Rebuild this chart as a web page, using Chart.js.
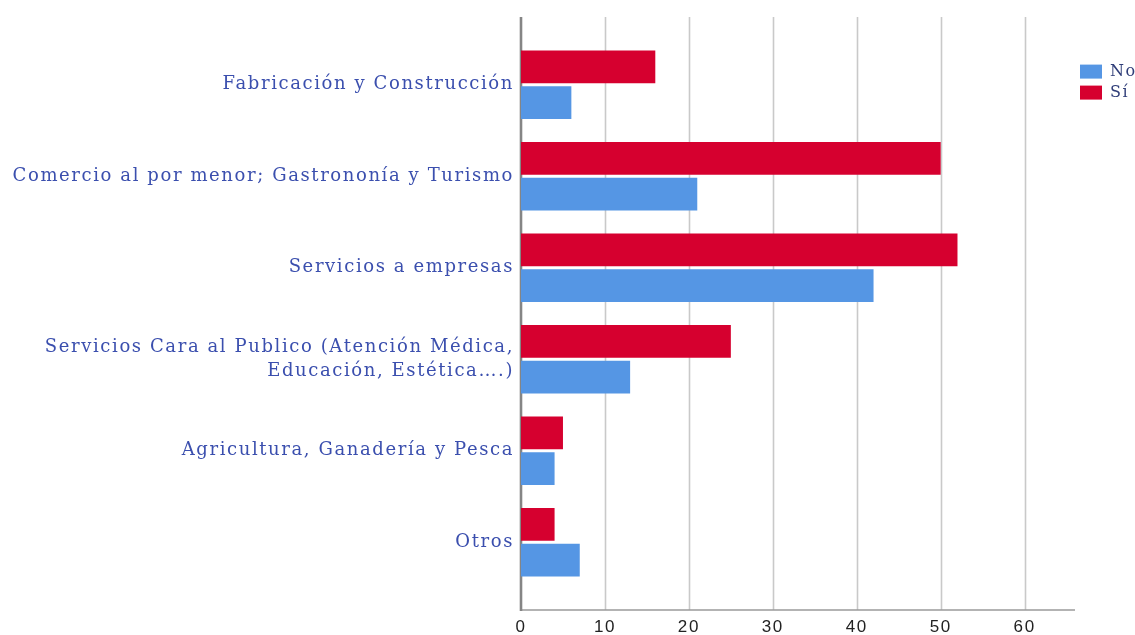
<!DOCTYPE html>
<html>
<head>
<meta charset="utf-8">
<script src="https://cdn.jsdelivr.net/npm/chart.js@4.4.1/dist/chart.umd.min.js"></script>
<style>
  html, body { margin: 0; padding: 0; background: #ffffff; }
  #wrap { width: 1135px; height: 635px; position: relative; }
</style>
</head>
<body>
<div id="wrap"><canvas id="c"></canvas></div>
<script>
const categories = [
  "Fabricación y Construcción",
  "Comercio al por menor; Gastrononía y Turismo",
  "Servicios a empresas",
  ["Servicios Cara al Publico (Atención Médica,", "Educación, Estética….)"],
  "Agricultura, Ganadería y Pesca",
  "Otros"
];
const seriesNames = ["Sí", "No"];
const siValues = [16, 50, 52, 25, 5, 4];
const noValues = [6, 21, 42, 13, 4, 7];
const xTickValues = [0, 10, 20, 30, 40, 50, 60];

const EXT = 22; // axis frame extends beyond the category bands

const framePlugin = {
  id: 'frame',
  beforeDraw(chart) {
    chart.ctx.letterSpacing = '1.6px';
  },
  beforeDatasetsDraw(chart) {
    const ctx = chart.ctx;
    const a = chart.chartArea;
    const xs = chart.scales.x;
    ctx.save();
    ctx.strokeStyle = '#c9c9c9';
    ctx.lineWidth = 1.6;
    xs.ticks.forEach(t => {
      if (t.value === 0) return;
      const x = Math.round(xs.getPixelForValue(t.value)) + 0.5;
      ctx.beginPath();
      ctx.moveTo(x, a.top - EXT);
      ctx.lineTo(x, a.bottom + EXT);
      ctx.stroke();
    });
    ctx.strokeStyle = '#9a9a9a';
    ctx.lineWidth = 1.6;
    ctx.beginPath();
    ctx.moveTo(a.left, a.bottom + EXT);
    ctx.lineTo(a.right, a.bottom + EXT);
    ctx.stroke();
    ctx.strokeStyle = '#858585';
    ctx.lineWidth = 2.6;
    const x0 = xs.getPixelForValue(0);
    ctx.beginPath();
    ctx.moveTo(x0, a.top - EXT);
    ctx.lineTo(x0, a.bottom + EXT + 1);
    ctx.stroke();
    ctx.restore();
  }
};

new Chart(document.getElementById('c'), {
  type: 'bar',
  data: {
    labels: categories,
    datasets: [
      { label: seriesNames[0], data: siValues, backgroundColor: '#d6002f', borderWidth: 0 },
      { label: seriesNames[1], data: noValues, backgroundColor: '#5596e4', borderWidth: 0 }
    ]
  },
  options: {
    indexAxis: 'y',
    responsive: true,
    maintainAspectRatio: false,
    animation: false,
    layout: { padding: { top: 39, right: 0, bottom: 0, left: 0 } },
    datasets: { bar: { categoryPercentage: 0.78, barPercentage: 0.92 } },
    scales: {
      x: {
        min: 0, max: 66,
        grid: { display: false, drawTicks: false },
        border: { display: false },
        afterBuildTicks: (s) => { s.ticks = xTickValues.map(v => ({ value: v })); },
        afterFit: (s) => { s.height = 47; },
        ticks: {
          padding: 29,
          color: '#222222',
          font: { family: 'Liberation Sans', size: 17 }
        }
      },
      y: {
        grid: { display: false, drawTicks: false },
        border: { display: false },
        afterFit: (s) => { s.width = 521; },
        ticks: {
          padding: 7,
          color: '#3b4fae',
          font: { family: 'DejaVu Serif', size: 18, lineHeight: 1.35 }
        }
      }
    },
    plugins: {
      legend: {
        position: 'right',
        align: 'start',
        reverse: true,
        maxWidth: 60,
        title: { display: true, text: ' ', font: { size: 8 }, padding: 5 },
        labels: {
          boxWidth: 22, boxHeight: 14, padding: 5,
          color: '#2f3d78',
          font: { family: 'DejaVu Serif', size: 16 }
        }
      },
      tooltip: { enabled: false }
    }
  },
  plugins: [framePlugin]
});
</script>
</body>
</html>
